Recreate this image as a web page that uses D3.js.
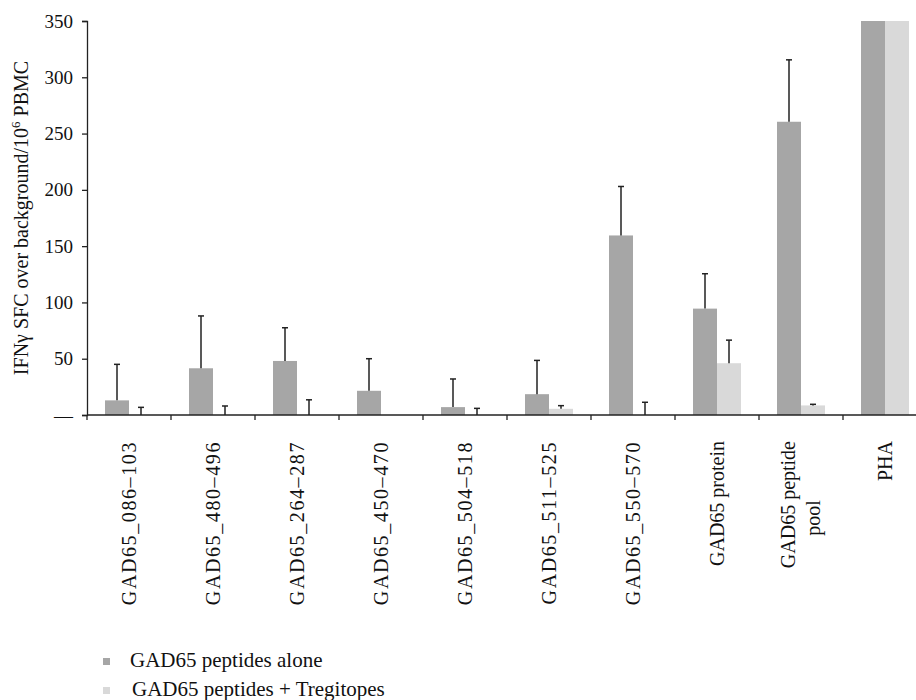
<!DOCTYPE html>
<html>
<head>
<meta charset="utf-8">
<script src="https://cdn.jsdelivr.net/npm/d3@7"></script>
<style>
  html, body { margin: 0; padding: 0; background: #fff; }
  svg { display: block; font-family: "Liberation Serif", "DejaVu Serif", serif; }
</style>
</head>
<body>
<svg id="chart" width="916" height="700"></svg>
<script>
const categories = [
  ["GAD65_086\u2013103"],
  ["GAD65_480\u2013496"],
  ["GAD65_264\u2013287"],
  ["GAD65_450\u2013470"],
  ["GAD65_504\u2013518"],
  ["GAD65_511\u2013525"],
  ["GAD65_550\u2013570"],
  ["GAD65 protein"],
  ["GAD65 peptide", "pool"],
  ["PHA"]
];
const seriesNames = ["GAD65 peptides alone", "GAD65 peptides + Tregitopes"];
const aloneValues = [13, 41.5, 48, 21.5, 7, 18.5, 159.5, 94.5, 260.5, 350];
const aloneErrors = [32, 46.5, 29.5, 28.5, 25, 30, 43.5, 31, 55, 0];
const tregValues  = [0, 0, 0, 0, 0, 5.5, 0, 46, 8.5, 350];
const tregErrors  = [6.8, 8, 13.5, 0, 5.9, 2.8, 11.3, 20.5, 1, 0];
const yTicks = [0, 50, 100, 150, 200, 250, 300, 350];
const seriesColors = ["#a6a6a6", "#d9d9d9"];

const svg = d3.select("#chart");
const catKeys = categories.map(c => c.join(" "));

const x = d3.scaleBand().domain(catKeys).range([87, 927]).paddingInner(0).paddingOuter(0);
const xSub = d3.scaleBand().domain([0, 1]).range([0, x.bandwidth()]).paddingInner(0).paddingOuter(0.75);
const y = d3.scaleLinear().domain([0, 350]).range([415, 21]);

// Y axis
const yAxis = svg.append("g").attr("transform", `translate(${x.range()[0]},0)`)
  .call(d3.axisLeft(y).tickValues(yTicks).tickSize(5).tickPadding(9)
    .tickFormat(d => d === 0 ? "\u2014" : d));
yAxis.select(".domain").attr("stroke", "#222").attr("stroke-width", 1.3);
yAxis.selectAll(".tick line").attr("stroke", "#222").attr("stroke-width", 1.3);
yAxis.selectAll(".tick text").attr("font-size", 19).attr("fill", "#111")
  .attr("font-family", "Liberation Serif, serif");

// Bars
const series = [
  { values: aloneValues, errors: aloneErrors },
  { values: tregValues, errors: tregErrors }
];
series.forEach((s, si) => {
  const g = svg.append("g");
  g.selectAll("rect").data(catKeys).join("rect")
    .attr("x", k => x(k) + xSub(si))
    .attr("width", xSub.bandwidth())
    .attr("y", (k, i) => y(s.values[i]))
    .attr("height", (k, i) => y(0) - y(s.values[i]))
    .attr("fill", seriesColors[si]);
});

// Error bars
series.forEach((s, si) => {
  const g = svg.append("g").attr("stroke", "#222").attr("stroke-width", 1.5);
  catKeys.forEach((k, i) => {
    if (s.errors[i] <= 0) return;
    const cx = x(k) + xSub(si) + xSub.bandwidth() / 2;
    const y0 = y(s.values[i]);
    const y1 = y(s.values[i] + s.errors[i]);
    g.append("line").attr("x1", cx).attr("x2", cx).attr("y1", y0).attr("y2", y1);
    g.append("line").attr("x1", cx - 3).attr("x2", cx + 3).attr("y1", y1).attr("y2", y1);
  });
});

// X axis (ticks at band boundaries)
const xg = svg.append("g").attr("transform", `translate(0,${y(0)})`);
xg.append("line").attr("x1", x.range()[0]).attr("x2", 916).attr("y1", 0).attr("y2", 0)
  .attr("stroke", "#222").attr("stroke-width", 1.3);
xg.selectAll("line.tk").data(catKeys).join("line").attr("class", "tk")
  .attr("x1", k => x(k)).attr("x2", k => x(k)).attr("y1", 0).attr("y2", 5)
  .attr("stroke", "#222").attr("stroke-width", 1.3);

// X labels (rotated)
catKeys.forEach((k, i) => {
  const lines = categories[i];
  const cx = x(k) + x.bandwidth() / 2;
  const wide = lines[0].indexOf("_") >= 0;
  if (lines.length === 1) {
    svg.append("text")
      .attr("transform", `translate(${cx + 7},${y(0) + 26}) rotate(-90)`)
      .attr("text-anchor", "end")
      .attr("font-size", 20)
      .attr("letter-spacing", wide ? 1.6 : 0)
      .attr("fill", "#111")
      .text(lines[0]);
  } else {
    svg.append("text")
      .attr("transform", `translate(${cx - 6},${y(0) + 26}) rotate(-90)`)
      .attr("text-anchor", "end")
      .attr("font-size", 20).attr("fill", "#111")
      .text(lines[0]);
    svg.append("text")
      .attr("transform", `translate(${cx + 19},${y(0) + 103}) rotate(-90)`)
      .attr("text-anchor", "middle")
      .attr("font-size", 20).attr("fill", "#111")
      .text(lines[1]);
  }
});

// Y axis title
const yt = svg.append("text")
  .attr("transform", `translate(28,${(y(0) + y(350)) / 2 + 0}) rotate(-90)`)
  .attr("text-anchor", "middle")
  .attr("font-size", 20).attr("fill", "#111");
yt.append("tspan").text("IFN\u03b3 SFC over background/10");
yt.append("tspan").attr("font-size", 13).attr("dy", -8).text("6");
yt.append("tspan").attr("dy", 8).text(" PBMC");

// Legend
const legend = svg.append("g");
seriesNames.forEach((name, i) => {
  const ly = 667 + i * 29;
  legend.append("rect").attr("x", 103).attr("y", ly - 9).attr("width", 7).attr("height", 7)
    .attr("fill", seriesColors[i]);
  legend.append("text").attr("x", 130 + i * 2).attr("y", ly)
    .attr("font-size", 21).attr("fill", "#111").text(name);
});
</script>
</body>
</html>
